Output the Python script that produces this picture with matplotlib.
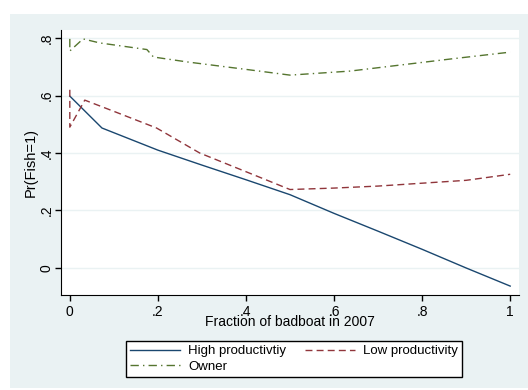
import numpy as np
import matplotlib
matplotlib.use('Agg')
import matplotlib.pyplot as plt
from matplotlib.patches import Rectangle

plt.rcParams['font.family'] = ['Liberation Sans', 'DejaVu Sans']

high_x = [0, 0.073, 0.2, 0.3, 0.4, 0.5, 0.6, 0.7, 0.8, 0.9, 1.0]
high_y = [0.598, 0.487, 0.41, 0.358, 0.307, 0.255, 0.19, 0.128, 0.065, 0.0, -0.063]

low_x = [0, 0, 0.034, 0.1, 0.197, 0.295, 0.4, 0.5, 0.6, 0.7, 0.8, 0.9, 1.0]
low_y = [0.62, 0.49, 0.584, 0.545, 0.487, 0.40, 0.335, 0.273, 0.278, 0.285, 0.295, 0.305, 0.326]

own_x = [0, 0, 0.03, 0.068, 0.175, 0.19, 0.266, 0.41, 0.5, 0.636, 0.75, 0.864, 1.0]
own_y = [0.797, 0.755, 0.797, 0.783, 0.76, 0.734, 0.717, 0.689, 0.671, 0.685, 0.706, 0.727, 0.751]

xticks = [0, 0.2, 0.4, 0.6, 0.8, 1.0]
xlabels = ['0', '.2', '.4', '.6', '.8', '1']
yticks = [0, 0.2, 0.4, 0.6, 0.8]
ylabels = ['0', '.2', '.4', '.6', '.8']

bg = '#eaf2f3'
fig = plt.figure(figsize=(5.28, 3.9), dpi=100)
back = fig.add_axes([10/528, 2/390, 518/528, 374/390], zorder=-5)
back.axis('off')
back.add_patch(Rectangle((0, 0), 1, 1, transform=back.transAxes, color=bg))

ax = fig.add_axes([61/528, 95/390, 458/528, 265/390])
ax.set_facecolor('white')
h1, = ax.plot(high_x, high_y, color='#1a476f', lw=1, label='High productivtiy')
h2, = ax.plot(low_x, low_y, color='#90353b', lw=1, dashes=(5, 3), label='Low productivity')
h3, = ax.plot(own_x, own_y, color='#55752f', lw=1, dashes=(6, 3, 1, 3), label='Owner')

ax.set_xlim(-0.02, 1.02)
ax.set_ylim(-0.094, 0.828)
ax.set_xticks(xticks)
ax.set_xticklabels(xlabels, fontsize=10)
ax.set_yticks(yticks)
ax.set_yticklabels(ylabels, fontsize=10, rotation=90, va='center')
ax.grid(axis='y', color=bg, lw=1)
ax.set_axisbelow(True)
for s in ['top', 'right']:
    ax.spines[s].set_visible(False)
ax.tick_params(direction='out', length=4, width=1)
ax.tick_params(axis='y', pad=1.5)
ax.set_xlabel('Fraction of badboat in 2007', fontsize=10, labelpad=-3)
ax.set_ylabel('Pr(Fish=1)', fontsize=10.5, labelpad=1)

# column-major fill: put Owner under High productivity
leg = fig.legend([h1, h3, h2], [h1.get_label(), h3.get_label(), h2.get_label()],
                 loc='center', bbox_to_anchor=(294/528, (390-359)/390), ncol=2,
                 fontsize=9.5, frameon=True, fancybox=False, edgecolor='black',
                 facecolor='white', framealpha=1,
                 handlelength=3.8, handletextpad=0.6, columnspacing=1.45,
                 borderpad=0.3, labelspacing=0.25)
leg.get_frame().set_linewidth(1)

fig.savefig('out.png', dpi=100)
